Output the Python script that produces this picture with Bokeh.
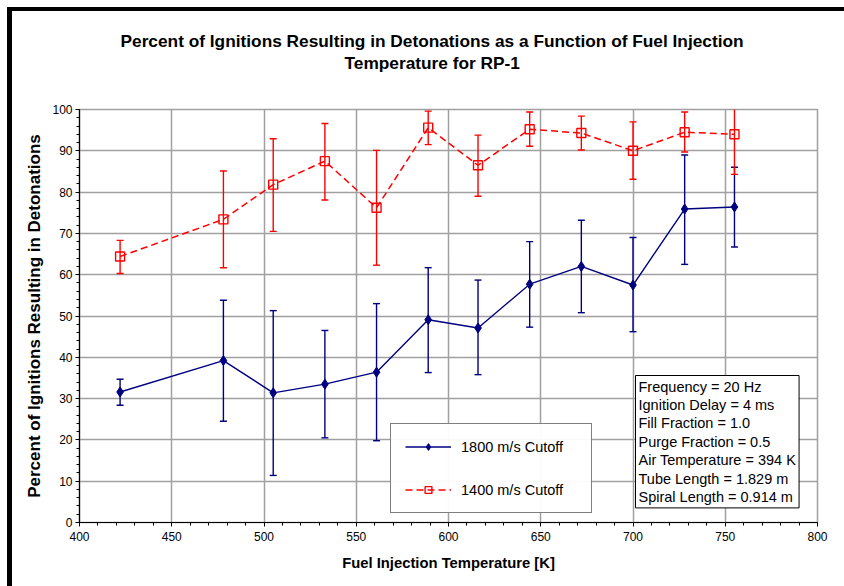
from bokeh.plotting import figure
from bokeh.models import (ColumnDataSource, Whisker, TeeHead, Legend, LegendItem,
                          Label, FixedTicker, Range1d, Title)
from bokeh.embed import file_html
from bokeh.resources import INLINE

# ---- data ----
temps = [422, 478, 505, 533, 561, 589, 616, 644, 672, 700, 728, 755]
det_1800 = [31.6, 39.2, 31.4, 33.5, 36.4, 49.1, 47.1, 57.7, 62.0, 57.5, 75.9, 76.4]
det_1800_hi = [34.7, 53.8, 51.3, 46.5, 53.0, 61.7, 58.7, 68.0, 73.2, 69.0, 89.0, 86.0]
det_1800_lo = [28.4, 24.5, 11.4, 20.5, 19.8, 36.3, 35.8, 47.3, 50.8, 46.2, 62.5, 66.7]
det_1400 = [64.4, 73.4, 81.8, 87.5, 76.2, 95.6, 86.5, 95.2, 94.3, 90.0, 94.5, 94.0]
det_1400_hi = [68.3, 85.1, 92.9, 96.6, 90.1, 99.6, 93.8, 99.4, 98.4, 97.0, 99.4, 101.5]
det_1400_lo = [60.3, 61.7, 70.5, 78.1, 62.3, 91.5, 79.0, 91.1, 90.2, 83.1, 89.7, 84.3]
series_labels = ["1800 m/s Cutoff", "1400 m/s Cutoff"]
x_ticks = [400, 450, 500, 550, 600, 650, 700, 750, 800]
y_ticks = [0, 10, 20, 30, 40, 50, 60, 70, 80, 90, 100]
info_lines = ["Frequency = 20 Hz", "Ignition Delay = 4 ms", "Fill Fraction = 1.0",
              "Purge Fraction = 0.5", "Air Temperature = 394 K",
              "Tube Length = 1.829 m", "Spiral Length = 0.914 m"]
title_lines = ["Percent of Ignitions Resulting in Detonations as a Function of Fuel Injection",
               "Temperature for RP-1"]

FONT = "Liberation Sans"
BLUE = "#000080"
RED = "#FF0000"

# ---- layout (page pixels) ----
PW, PH = 844, 586                 # visible page
OX, OY = 12, 11                   # canvas origin (after white gap + black band)
FL, FR, FT, FB = 79, 817, 109, 522  # plot frame edges
X0, X1, Y0, Y1 = 400, 800, 0, 100


def px_to_x(px):
    return X0 + (px - FL) * (X1 - X0) / (FR - FL)


def py_to_y(py):
    return Y0 + (FB - py) * (Y1 - Y0) / (FB - FT)


src_b = ColumnDataSource(dict(x=temps, y=det_1800, hi=det_1800_hi, lo=det_1800_lo))
src_r = ColumnDataSource(dict(x=temps, y=det_1400, hi=det_1400_hi, lo=det_1400_lo))

# the thick black top/left chart border is drawn as a box-shadow (no layout impact)
p = figure(width=PW - OX, height=PH - OY, output_backend="svg",
           toolbar_location=None,
           x_range=Range1d(X0, X1), y_range=Range1d(Y0, Y1),
           min_border_left=FL - OX, min_border_right=PW - FR, min_border_top=FT - OY,
           min_border_bottom=PH - FB,
           styles={"margin-left": f"{OX}px", "margin-top": f"{OY}px",
                   "box-shadow": "-2px -1px 0 3px black"})
p.background_fill_color = "white"
p.border_fill_color = "white"
p.outline_line_color = "#a0a0a0"
p.outline_line_width = 1.5
p.title.visible = False

# chart title: first title added sits nearest the frame
title_font = dict(text_font=FONT, text_font_size="17.3px", text_font_style="bold",
                  text_color="black", align="left")
p.add_layout(Title(text=" ", standoff=15, **title_font), "above")          # spacer
p.add_layout(Title(text=title_lines[1], standoff=0, offset=265, **title_font), "above")
p.add_layout(Title(text=title_lines[0], standoff=0, offset=41, **title_font), "above")

# axes
for ax in (p.xaxis[0], p.yaxis[0]):
    ax.axis_line_color = "black"
    ax.axis_line_width = 1.2
    ax.major_tick_line_color = "black"
    ax.minor_tick_line_color = "black"
    ax.major_tick_out = 4
    ax.major_tick_in = 0
    ax.minor_tick_out = 3
    ax.minor_tick_in = 0
    ax.major_label_text_font = FONT
    ax.major_label_text_font_size = "12px"
    ax.major_label_text_color = "black"
    ax.axis_label_text_font = FONT
    ax.axis_label_text_font_style = "bold"
    ax.axis_label_text_color = "black"

p.xaxis.ticker = FixedTicker(ticks=x_ticks, minor_ticks=list(range(400, 801, 10)))
p.yaxis.ticker = FixedTicker(ticks=y_ticks, minor_ticks=list(range(0, 101, 2)))
p.xaxis.axis_label = "Fuel Injection Temperature [K]"
p.yaxis.axis_label = "Percent of Ignitions Resulting in Detonations"
p.xaxis.axis_label_text_font_size = "14.8px"
p.yaxis.axis_label_text_font_size = "17px"
p.xaxis.major_label_standoff = 5
p.yaxis.major_label_standoff = 3
p.xaxis.axis_label_standoff = 11
p.yaxis.axis_label_standoff = 5

p.xgrid.grid_line_color = "#a0a0a0"
p.ygrid.grid_line_color = "#a0a0a0"
p.xgrid.grid_line_width = 1.5
p.ygrid.grid_line_width = 1.5


# error bars
def whisker(src, color):
    return Whisker(source=src, base="x", upper="hi", lower="lo", line_color=color,
                   line_width=1.4,
                   upper_head=TeeHead(size=7, line_color=color, line_width=1.4),
                   lower_head=TeeHead(size=7, line_color=color, line_width=1.4))


p.add_layout(whisker(src_b, BLUE))
p.add_layout(whisker(src_r, RED))

# series
lb = p.line("x", "y", source=src_b, line_color=BLUE, line_width=1.4)
sb = p.scatter("x", "y", source=src_b, marker="diamond", size=10,
               fill_color=BLUE, line_color=BLUE, line_width=1)
lr = p.line("x", "y", source=src_r, line_color=RED, line_width=1.5, line_dash="7 4")
sr = p.scatter("x", "y", source=src_r, marker="square", size=9,
               fill_alpha=0, line_color=RED, line_width=1.4)

legend = Legend(items=[LegendItem(label=series_labels[0], renderers=[lb, sb]),
                       LegendItem(label=series_labels[1], renderers=[lr, sr])],
                location=(311, 9), padding=14, spacing=26, glyph_width=46,
                glyph_height=17, label_height=17, label_width=116, label_standoff=10,
                label_text_font=FONT, label_text_font_size="14.5px",
                label_text_color="black",
                border_line_color="black", border_line_width=1,
                background_fill_color="white", margin=0)
p.add_layout(legend, "center")

info = Label(x=px_to_x(635), y=py_to_y(375), anchor="top_left",
             text="\n".join(info_lines), text_font=FONT, text_font_size="14.5px",
             text_color="black", text_line_height=1.15, padding=3,
             border_line_color="black", border_line_width=1,
             background_fill_color="white")
p.add_layout(info)

open("out.html", "w").write(file_html(p, INLINE))
